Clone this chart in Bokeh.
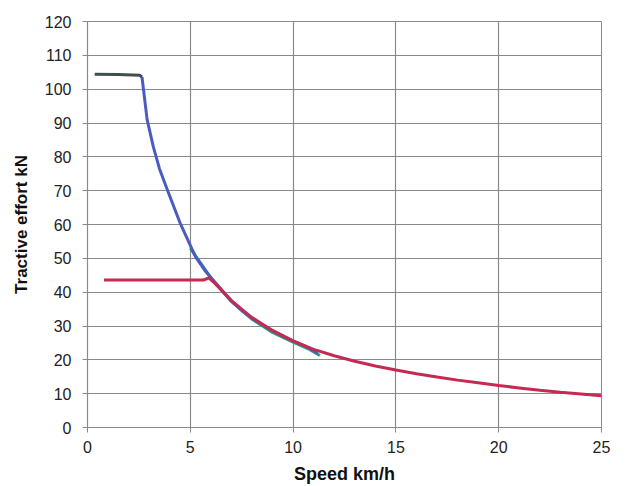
from bokeh.plotting import figure
from bokeh.models import Range1d, FixedTicker
from bokeh.embed import file_html
from bokeh.resources import INLINE

# Data
flat_x = [0.35, 1.5, 2.55, 2.65]
flat_y = [104.4, 104.3, 104.1, 103.6]

blue_x = [2.65, 2.9, 3.2, 3.5, 3.9, 4.5, 5.25, 5.7, 6.15, 7.0, 7.5, 8.0, 9.0, 10.0, 10.6, 11.2]
blue_y = [103.6, 91.0, 83.0, 76.5, 70.0, 60.5, 50.5, 46.5, 43.3, 37.4, 34.6, 32.3, 28.5, 25.6, 24.0, 22.0]

green_x = [5.0, 6.0, 7.0, 8.0, 9.0, 10.0, 10.8, 11.3]
green_y = [53.0, 44.2, 37.2, 32.0, 28.1, 25.2, 23.1, 21.3]

red_x = [0.8, 5.65, 5.9, 6.2, 7.0, 8.0, 9.0, 10.0, 11.0, 12.0, 13.0, 14.0, 15.0,
         16.0, 17.0, 18.0, 19.0, 20.0, 21.0, 22.0, 23.0, 24.0, 25.0]
red_y = [43.6, 43.6, 44.2, 42.6, 37.5, 32.5, 28.7, 25.6, 23.1, 21.2, 19.6, 18.2, 17.0,
         15.9, 14.9, 14.0, 13.2, 12.4, 11.7, 11.0, 10.4, 9.9, 9.35]

x_ticks = [0, 5, 10, 15, 20, 25]
y_ticks = [0, 10, 20, 30, 40, 50, 60, 70, 80, 90, 100, 110, 120]

p = figure(width=625, height=486, output_backend="svg", toolbar_location=None,
           x_range=Range1d(0, 25), y_range=Range1d(0, 120),
           min_border_left=87, min_border_right=24, min_border_top=21, min_border_bottom=59)

p.background_fill_color = "white"
p.border_fill_color = "white"
p.outline_line_color = "#8a8a8a"
p.outline_line_width = 1

grid_color = "#8a8a8a"
p.xgrid.grid_line_color = grid_color
p.ygrid.grid_line_color = grid_color
p.xgrid.grid_line_width = 1.2
p.ygrid.grid_line_width = 1.2
p.xgrid.ticker = FixedTicker(ticks=x_ticks)
p.ygrid.ticker = FixedTicker(ticks=y_ticks)

p.xaxis.ticker = FixedTicker(ticks=x_ticks)
p.yaxis.ticker = FixedTicker(ticks=y_ticks)
for ax in (p.xaxis[0], p.yaxis[0]):
    ax.axis_line_color = grid_color
    ax.axis_line_width = 1.2
    ax.major_tick_line_color = grid_color
    ax.major_tick_out = 5
    ax.major_tick_in = 0
    ax.minor_tick_line_color = None
    ax.major_label_text_font = "Liberation Sans"
    ax.major_label_text_font_size = "16px"
    ax.major_label_text_color = "#222222"
    ax.axis_label_text_font = "Liberation Sans"
    ax.axis_label_text_font_style = "bold"
    ax.axis_label_text_color = "#111111"

p.xaxis.axis_label = "Speed km/h"
p.yaxis.axis_label = "Tractive effort kN"
p.xaxis.axis_label_text_font_size = "18px"
p.yaxis.axis_label_text_font_size = "17px"
p.xaxis.major_label_standoff = 8
p.yaxis.major_label_standoff = 11
p.xaxis.axis_label_standoff = 8
p.yaxis.axis_label_standoff = 11

p.line(green_x, green_y, line_color="#2a9d70", line_width=3)
p.line(blue_x, blue_y, line_color="#4a5cc0", line_width=3)
p.line(flat_x, flat_y, line_color="#3e4f4f", line_width=3)
p.line(red_x, red_y, line_color="#c42a52", line_width=3)

open("out.html", "w").write(file_html(p, INLINE))
